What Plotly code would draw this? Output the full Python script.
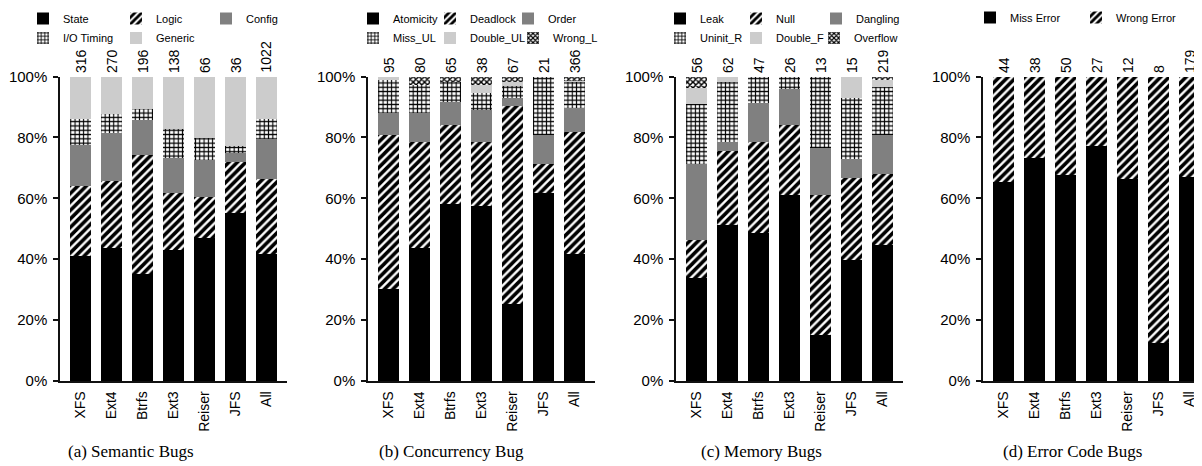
import plotly.graph_objects as go

categories = ["XFS", "Ext4", "Btrfs", "Ext3", "Reiser", "JFS", "All"]

# (a) Semantic bugs, percent of bugs per file system
sem_state   = [41.3, 43.7, 35.2, 43.3, 47.0, 55.4, 41.9]
sem_logic   = [23.0, 22.0, 39.2, 18.7, 13.5, 16.7, 24.7]
sem_config  = [13.4, 15.9, 11.6, 11.5, 12.1, 2.9, 12.9]
sem_io      = [8.4, 6.2, 3.4, 9.3, 7.3, 2.4, 6.6]
sem_generic = [13.9, 12.2, 10.6, 17.2, 20.1, 22.6, 13.9]
sem_counts  = [316, 270, 196, 138, 66, 36, 1022]

# (b) Concurrency bugs
con_atomicity = [30.5, 43.7, 58.4, 57.7, 25.3, 62.0, 42.0]
con_deadlock  = [50.3, 34.8, 26.0, 21.0, 65.3, 9.4, 40.1]
con_order     = [7.3, 9.7, 7.4, 10.4, 2.6, 9.4, 7.6]
con_miss_ul   = [10.8, 9.3, 6.4, 5.7, 3.7, 19.2, 8.7]
con_double_ul = [1.1, 0.0, 0.0, 2.6, 1.5, 0.0, 0.3]
con_wrong_l   = [0.0, 2.5, 1.8, 2.6, 1.6, 0.0, 1.3]
con_counts    = [95, 80, 65, 38, 67, 21, 366]

# (c) Memory bugs
mem_leak     = [34.1, 51.5, 48.9, 61.3, 15.4, 40.0, 44.9]
mem_null     = [12.3, 24.2, 29.6, 23.0, 45.9, 26.8, 23.4]
mem_dangling = [25.0, 3.1, 12.8, 11.9, 15.5, 6.4, 12.8]
mem_uninit_r = [19.6, 19.6, 8.7, 3.8, 23.2, 19.8, 15.5]
mem_double_f = [5.4, 1.6, 0.0, 0.0, 0.0, 7.0, 2.3]
mem_overflow = [3.6, 0.0, 0.0, 0.0, 0.0, 0.0, 1.1]
mem_counts   = [56, 62, 47, 26, 13, 15, 219]

# (d) Error code bugs
err_miss   = [65.6, 73.4, 67.9, 77.4, 66.6, 12.5, 67.2]
err_wrong  = [34.4, 26.6, 32.1, 22.6, 33.4, 87.5, 32.8]
err_counts = [44, 38, 50, 27, 12, 8, 179]

y_ticks = [0, 20, 40, 60, 80, 100]
y_tick_labels = ["0%", "20%", "40%", "60%", "80%", "100%"]

captions = ["(a) Semantic Bugs", "(b) Concurrency Bug", "(c) Memory Bugs", "(d) Error Code Bugs"]

# page body has an 8px margin: figure is drawn offset by (8, 8) in the window
OFF = 8
W, H = 1202 - OFF, 466 - OFF
SANS = "Liberation Sans, Arial, Helvetica, sans-serif"
SERIF = "Liberation Serif, Times New Roman, serif"

STYLES = {
    "black": dict(color="#000000"),
    "hatch": dict(color="#ffffff", pattern=dict(shape="/", fgcolor="#000000", bgcolor="#ffffff",
                                                 fgopacity=1, size=6, solidity=0.6)),
    "gray": dict(color="#808080"),
    "grid": dict(color="#ffffff", pattern=dict(shape="+", fgcolor="#000000", bgcolor="#ffffff",
                                                fgopacity=1, size=4.3, solidity=0.45)),
    "light": dict(color="#cccccc"),
    "cross": dict(color="#ffffff", pattern=dict(shape="x", fgcolor="#000000", bgcolor="#ffffff",
                                                 fgopacity=1, size=4, solidity=0.6)),
}

# legend: (name, values, style, legend box left px, row)
panels = [
    dict(series=[("State", sem_state, "black", 23, 0), ("Logic", sem_logic, "hatch", 116, 0),
                 ("Config", sem_config, "gray", 206, 0), ("I/O Timing", sem_io, "grid", 23, 1),
                 ("Generic", sem_generic, "light", 116, 1)],
         counts=sem_counts, left=60, right=287, caption_x=131),
    dict(series=[("Atomicity", con_atomicity, "black", 353, 0), ("Deadlock", con_deadlock, "hatch", 430, 0),
                 ("Order", con_order, "gray", 508, 0), ("Miss_UL", con_miss_ul, "grid", 353, 1),
                 ("Double_UL", con_double_ul, "light", 430, 1), ("Wrong_L", con_wrong_l, "cross", 513, 1)],
         counts=con_counts, left=368, right=595, caption_x=451.5),
    dict(series=[("Leak", mem_leak, "black", 660, 0), ("Null", mem_null, "hatch", 736, 0),
                 ("Dangling", mem_dangling, "gray", 816, 0), ("Uninit_R", mem_uninit_r, "grid", 660, 1),
                 ("Double_F", mem_double_f, "light", 736, 1), ("Overflow", mem_overflow, "cross", 814, 1)],
         counts=mem_counts, left=676, right=903, caption_x=761),
    dict(series=[("Miss Error", err_miss, "black", 970, 0), ("Wrong Error", err_wrong, "hatch", 1076, 0)],
         counts=err_counts, left=983, right=1202, caption_x=1072.5),
]

row_centers = [17, 36.5]
cat_px = 31.0
bar_w = 21.0 / cat_px


def px_x(v):
    return (v - OFF) / W


def px_y(v):
    return 1 - (v - OFF) / H


fig = go.Figure()
layout = dict(
    width=W, height=H,
    margin=dict(l=0, r=0, t=0, b=0, autoexpand=False),
    paper_bgcolor="white", plot_bgcolor="white",
    barmode="stack", bargap=0,
    font=dict(family=SANS, color="#000000"),
    annotations=[],
)

legend_idx = 0
y_dom = [px_y(381), px_y(76.5)]
for pi, p in enumerate(panels):
    n = "" if pi == 0 else str(pi + 1)
    xa, ya = "x" + n, "y" + n
    for name, vals, style, lx, row in p["series"]:
        legend_idx += 1
        lid = "legend" if legend_idx == 1 else "legend%d" % legend_idx
        fig.add_trace(go.Bar(
            x=categories, y=vals, name=name, xaxis=xa, yaxis=ya,
            width=bar_w, marker=dict(line=dict(width=0), **STYLES[style]),
            legend=lid, showlegend=True, hoverinfo="skip",
        ))
        ly = row_centers[row] - 13 - (1 if pi == 3 else 0)
        layout[lid] = dict(
            x=px_x(lx), y=px_y(ly), xanchor="left", yanchor="top",
            xref="paper", yref="paper",
            bgcolor="rgba(0,0,0,0)", borderwidth=0,
            font=dict(family=SANS, size=11, color="#000000"),
            orientation="v",
        )
    right = min(p["right"], 1202)
    span = (right - p["left"]) / cat_px
    layout["xaxis" + n] = dict(
        domain=[px_x(p["left"]), min(1.0, px_x(right))], anchor=ya,
        range=[-0.66, -0.66 + span], type="category",
        showline=True, linecolor="#111111", linewidth=1.5,
        ticks="", tickangle=-90, showgrid=False, zeroline=False,
        tickfont=dict(family=SANS, size=14, color="#000000"),
        ticklabelstandoff=3,
    )
    layout["yaxis" + n] = dict(
        domain=y_dom, anchor=xa, range=[0, 100],
        tickvals=y_ticks, ticktext=y_tick_labels,
        showline=True, linecolor="#111111", linewidth=1.5,
        ticks="outside", ticklen=5, tickwidth=1.5, tickcolor="#111111",
        showgrid=False, zeroline=False,
        tickfont=dict(family=SANS, size=15, color="#000000"),
        ticklabelstandoff=3,
    )
    for c, cnt in zip(categories, p["counts"]):
        layout["annotations"].append(dict(
            x=c, y=100, xref=xa, yref=ya, text=str(cnt), showarrow=False,
            textangle=-90, xanchor="center", yanchor="bottom", yshift=2,
            font=dict(family=SANS, size=14, color="#000000"),
        ))
    layout["annotations"].append(dict(
        x=px_x(p["caption_x"]), y=px_y(451), xref="paper", yref="paper",
        text=captions[pi], showarrow=False, xanchor="center", yanchor="middle",
        font=dict(family=SERIF, size=17, color="#000000"),
    ))

fig.update_layout(**layout)
fig.write_html("out.html")
